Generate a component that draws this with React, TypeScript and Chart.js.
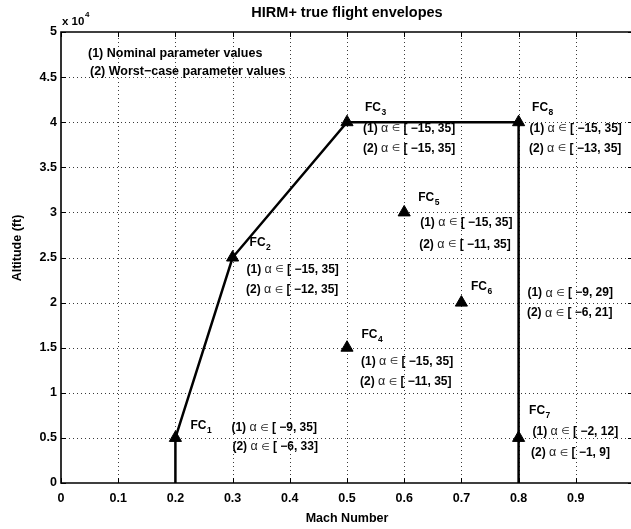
import React, { useEffect, useRef } from 'react';
import { Chart, registerables } from 'chart.js';

Chart.register(...registerables);

// Envelope boundary (Mach, altitude in ft)
const ENVELOPE_MACH = [0.2, 0.2, 0.3, 0.5, 0.8, 0.8];
const ENVELOPE_ALT = [0, 5000, 25000, 40000, 40000, 0];

// Flight conditions FC1..FC8
const FC_INDEX = ['1', '2', '3', '4', '5', '6', '7', '8'];
const FC_MACH = [0.2, 0.3, 0.5, 0.5, 0.6, 0.7, 0.8, 0.8];
const FC_ALT = [5000, 25000, 40000, 15000, 30000, 20000, 5000, 40000];

// Angle-of-attack ranges: (1) nominal, (2) worst-case parameters
const NOMINAL_RANGES = ['[ −9, 35]', '[ −15, 35]', '[ −15, 35]', '[ −15, 35]', '[ −15, 35]', '[ −9, 29]', '[ −2, 12]', '[ −15, 35]'];
const WORST_RANGES = ['[ −6, 33]', '[ −12, 35]', '[ −15, 35]', '[ −11, 35]', '[ −11, 35]', '[ −6, 21]', '[ −1, 9]', '[ −13, 35]'];

const X_TICKS = [0, 0.1, 0.2, 0.3, 0.4, 0.5, 0.6, 0.7, 0.8, 0.9, 1];
const X_TICK_LABELS = ['0', '0.1', '0.2', '0.3', '0.4', '0.5', '0.6', '0.7', '0.8', '0.9', ''];
const Y_TICKS = [0, 5000, 10000, 15000, 20000, 25000, 30000, 35000, 40000, 45000, 50000];
const Y_TICK_LABELS = ['0', '0.5', '1', '1.5', '2', '2.5', '3', '3.5', '4', '4.5', '5'];

const TITLE = 'HIRM+ true flight envelopes';
const X_TITLE = 'Mach Number';
const Y_TITLE = 'Altitude (ft)';
const LEGEND_LINES = ['(1) Nominal parameter values', '(2) Worst−case parameter values'];

// Pixel offsets of each condition's annotations from its marker: tag, line (1), line (2)
const LABEL_LAYOUT = [
  { tag: [15, -12.5], one: [56, -10], two: [57, 9] },
  { tag: [17, -14.5], one: [14, 12], two: [13.5, 32.5] },
  { tag: [18, -15], one: [16, 6], two: [16, 26] },
  { tag: [14.5, -13], one: [14, 13.5], two: [13, 34] },
  { tag: [14, -15], one: [16, 10], two: [15, 32] },
  { tag: [9.5, -16], one: [66, -9.5], two: [65.5, 10.5] },
  { tag: [10.5, -27], one: [14, -6.5], two: [12.5, 15] },
  { tag: [13.5, -15], one: [11, 6], two: [10.5, 26] },
];

const FONT = "'Liberation Sans', 'DejaVu Sans', Arial, sans-serif";

const annotate = {
  id: 'envelopeAnnotations',
  beforeDatasetsDraw(chart: any) {
    const { ctx, chartArea: a, scales } = chart;
    const xs = scales.x;
    const ys = scales.y;
    ctx.save();
    ctx.strokeStyle = '#3a3a3a';
    ctx.lineWidth = 1;
    ctx.setLineDash([1, 3]);
    X_TICKS.forEach((v) => {
      if (v <= 0 || v >= 1) return;
      const px = Math.round(xs.getPixelForValue(v)) + 0.5;
      ctx.beginPath();
      ctx.moveTo(px, a.bottom);
      ctx.lineTo(px, a.top);
      ctx.stroke();
    });
    Y_TICKS.forEach((v) => {
      if (v <= 0 || v >= 50000) return;
      const py = Math.round(ys.getPixelForValue(v)) + 0.5;
      ctx.beginPath();
      ctx.moveTo(a.left, py);
      ctx.lineTo(a.right, py);
      ctx.stroke();
    });
    ctx.restore();
  },
  afterDatasetsDraw(chart: any) {
    const { ctx, chartArea: a, scales } = chart;
    const xs = scales.x;
    const ys = scales.y;
    ctx.save();

    // axes box
    ctx.strokeStyle = '#000';
    ctx.lineWidth = 1.6;
    ctx.beginPath();
    ctx.moveTo(a.left, a.top);
    ctx.lineTo(a.right, a.top);
    ctx.lineTo(a.right, a.bottom);
    ctx.lineTo(a.left, a.bottom);
    ctx.closePath();
    ctx.stroke();

    // inward tick marks
    ctx.lineWidth = 1;
    const tl = 5;
    X_TICKS.forEach((v) => {
      const px = Math.round(xs.getPixelForValue(v)) + 0.5;
      ctx.beginPath();
      ctx.moveTo(px, a.bottom);
      ctx.lineTo(px, a.bottom - tl);
      ctx.moveTo(px, a.top);
      ctx.lineTo(px, a.top + tl);
      ctx.stroke();
    });
    Y_TICKS.forEach((v) => {
      const py = Math.round(ys.getPixelForValue(v)) + 0.5;
      ctx.beginPath();
      ctx.moveTo(a.left, py);
      ctx.lineTo(a.left + tl, py);
      ctx.moveTo(a.right, py);
      ctx.lineTo(a.right - tl, py);
      ctx.stroke();
    });

    ctx.fillStyle = '#000';
    ctx.textBaseline = 'middle';

    // title
    ctx.textAlign = 'center';
    ctx.font = `bold 14.5px ${FONT}`;
    ctx.fillText(TITLE, (a.left + a.right) / 2, 13);

    // axis titles
    ctx.font = `bold 12.5px ${FONT}`;
    ctx.fillText(X_TITLE, (a.left + a.right) / 2, 519);
    ctx.save();
    ctx.translate(18, 248);
    ctx.rotate(-Math.PI / 2);
    ctx.fillText(Y_TITLE, 0, 0);
    ctx.restore();

    // exponent of the altitude axis
    ctx.textAlign = 'left';
    ctx.font = `bold 11.5px ${FONT}`;
    ctx.fillText('x 10', a.left + 1, 21.5);
    const ew = ctx.measureText('x 10').width;
    ctx.font = `bold 8px ${FONT}`;
    ctx.fillText('4', a.left + 1 + ew + 0.5, 15);

    // legend notes
    ctx.font = `bold 12.5px ${FONT}`;
    ctx.fillText(LEGEND_LINES[0], 88, 53.5);
    ctx.fillText(LEGEND_LINES[1], 90, 72);

    const drawRange = (x: number, y: number, prefix: string, range: string) => {
      ctx.font = `bold 12px ${FONT}`;
      ctx.fillText(prefix, x, y);
      let cx = x + ctx.measureText(prefix).width;
      ctx.fillStyle = '#222';
      ctx.font = `12.5px ${FONT}`;
      ctx.fillText('α', cx, y);
      cx += ctx.measureText('α').width + 3.5;
      ctx.font = `9.5px 'DejaVu Sans', ${FONT}`;
      ctx.fillText('∈', cx, y + 0.5);
      cx += ctx.measureText('∈').width + 3.5;
      ctx.fillStyle = '#000';
      ctx.font = `bold 12px ${FONT}`;
      ctx.fillText(range, cx, y);
    };

    FC_INDEX.forEach((n, i) => {
      const px = xs.getPixelForValue(FC_MACH[i]);
      const py = ys.getPixelForValue(FC_ALT[i]);
      const L = LABEL_LAYOUT[i];
      ctx.font = `bold 12px ${FONT}`;
      const tx = px + L.tag[0];
      const ty = py + L.tag[1];
      ctx.fillText('FC', tx, ty);
      const fw = ctx.measureText('FC').width;
      ctx.font = `bold 8.5px ${FONT}`;
      ctx.fillText(n, tx + fw + 0.5, ty + 5);
      drawRange(px + L.one[0], py + L.one[1], '(1) ', NOMINAL_RANGES[i]);
      drawRange(px + L.two[0], py + L.two[1], '(2) ', WORST_RANGES[i]);
    });

    ctx.restore();
  },
};

export default function App() {
  const ref = useRef<HTMLCanvasElement | null>(null);

  useEffect(() => {
    if (!ref.current) return;
    const chart = new Chart(ref.current, {
      type: 'scatter',
      data: {
        datasets: [
          {
            data: ENVELOPE_MACH.map((m, i) => ({ x: m, y: ENVELOPE_ALT[i] })),
            showLine: true,
            borderColor: '#000',
            borderWidth: 2.5,
            pointRadius: 0,
            tension: 0,
          },
          {
            data: FC_MACH.map((m, i) => ({ x: m, y: FC_ALT[i] })),
            showLine: false,
            pointStyle: 'triangle',
            pointRadius: 7,
            pointBackgroundColor: '#000',
            pointBorderColor: '#000',
            pointBorderWidth: 1,
          },
        ],
      },
      plugins: [annotate],
      options: {
        animation: false,
        responsive: false,
        devicePixelRatio: 1,
        layout: { padding: { top: 32, right: 12, left: 0, bottom: 0 } },
        plugins: {
          legend: { display: false },
          title: { display: false },
          tooltip: { enabled: false },
        },
        scales: {
          x: {
            type: 'linear',
            min: 0,
            max: 1,
            afterBuildTicks: (s: any) => {
              s.ticks = X_TICKS.map((v) => ({ value: v }));
            },
            afterFit: (s: any) => {
              s.height = 46;
            },
            grid: { display: false, drawTicks: false },
            border: { display: false },
            ticks: {
              autoSkip: false,
              maxRotation: 0,
              padding: 8,
              color: '#000',
              font: { family: FONT, size: 12.5, weight: 'bold' },
              callback: (_v: any, i: number) => X_TICK_LABELS[i],
            },
          },
          y: {
            type: 'linear',
            min: 0,
            max: 50000,
            afterBuildTicks: (s: any) => {
              s.ticks = Y_TICKS.map((v) => ({ value: v }));
            },
            afterFit: (s: any) => {
              s.width = 61;
            },
            grid: { display: false, drawTicks: false },
            border: { display: false },
            ticks: {
              autoSkip: false,
              padding: 4,
              color: '#000',
              font: { family: FONT, size: 12.5, weight: 'bold' },
              callback: (_v: any, i: number) => Y_TICK_LABELS[i],
            },
          },
        },
      },
    });
    return () => chart.destroy();
  }, []);

  return (
    <div
      style={{
        position: 'fixed',
        left: 0,
        top: 0,
        width: 631,
        height: 529,
        overflow: 'hidden',
        background: '#fff',
      }}
    >
      <canvas ref={ref} width={645} height={529} style={{ width: 645, height: 529, display: 'block' }} />
    </div>
  );
}
